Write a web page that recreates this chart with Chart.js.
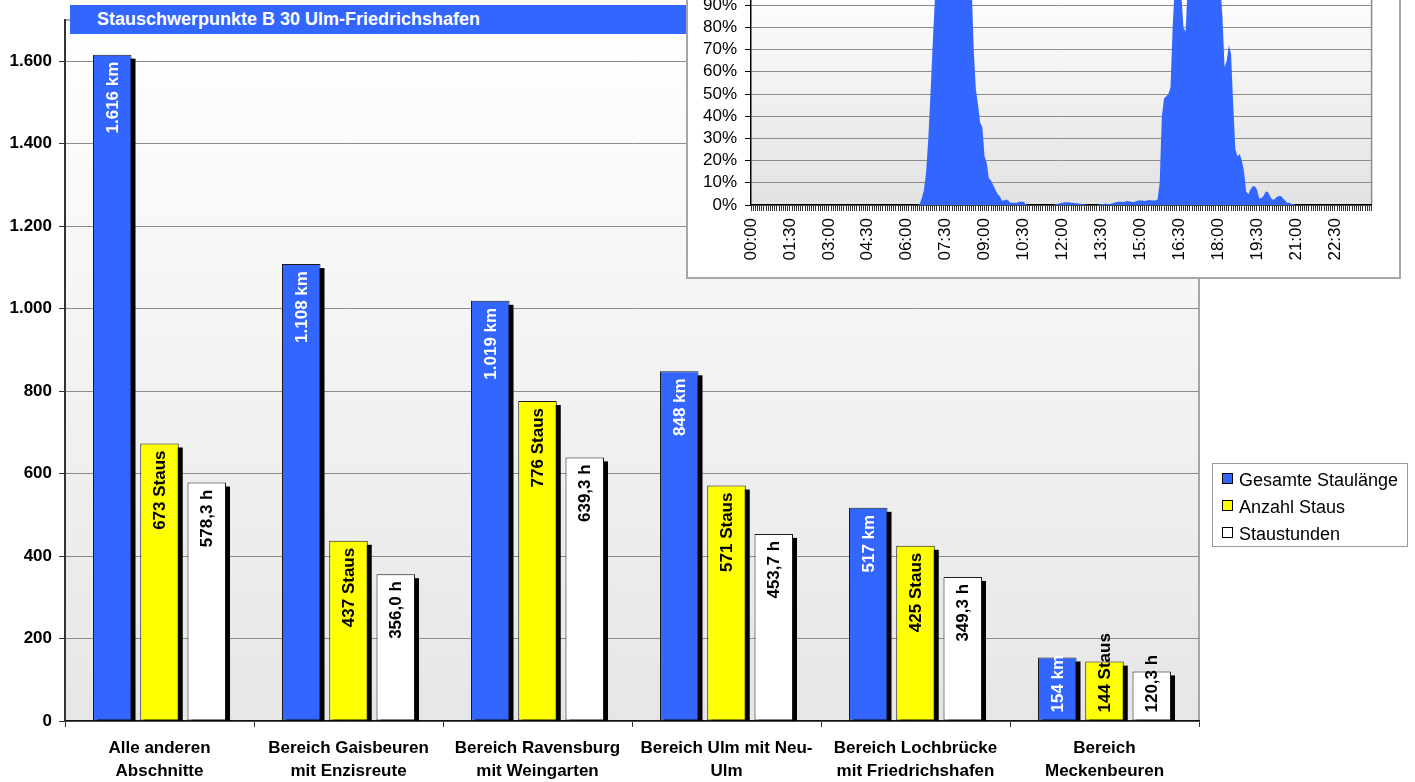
<!DOCTYPE html>
<html>
<head>
<meta charset="utf-8">
<script src="https://cdn.jsdelivr.net/npm/chart.js@4.4.1/dist/chart.umd.min.js"></script>
<style>
  body { margin: 0; background: #fff; width: 1415px; height: 782px; overflow: hidden; position: relative; font-family: "Liberation Sans", Arial, sans-serif; }
  #mainChart { position: absolute; left: 0; top: 0; }
  .title-box { position: absolute; left: 70px; top: 5px; width: 640px; height: 29px; background: #3366ff; color: #fff; font-weight: bold; font-size: 18px; line-height: 29px; padding-left: 27px; box-sizing: border-box; }
  .inset { position: absolute; left: 686px; top: -40px; width: 715px; height: 319px; border: 2px solid #a6a6a6; box-sizing: border-box; background: #fff; }
  .inset canvas { position: absolute; left: 0; top: 0; }
  .legend { position: absolute; left: 1212px; top: 463px; width: 196px; height: 84px; border: 1px solid #999; box-sizing: border-box; background: #fff; padding-top: 7px; }
  .legend div { height: 27px; font-size: 18px; line-height: 18px; position: relative; padding-left: 26px; color: #000; }
  .legend span { position: absolute; left: 9px; top: 2px; width: 9px; height: 9px; border: 1.5px solid #000; }
</style>
</head>
<body>
<canvas id="mainChart" width="1415" height="782"></canvas>
<div class="title-box">Stauschwerpunkte B 30 Ulm-Friedrichshafen</div>
<div class="legend" id="legend"></div>
<div class="inset"><canvas id="timeChart" width="711" height="315"></canvas></div>
<script>
// main chart data
const categories = [
  ["Alle anderen", "Abschnitte"],
  ["Bereich Gaisbeuren", "mit Enzisreute"],
  ["Bereich Ravensburg", "mit Weingarten"],
  ["Bereich Ulm mit Neu-", "Ulm"],
  ["Bereich Lochbrücke", "mit Friedrichshafen"],
  ["Bereich", "Meckenbeuren"]
];
const staulaenge = [1616, 1108, 1019, 848, 517, 154];
const anzahlStaus = [673, 437, 776, 571, 425, 144];
const staustunden = [578.3, 356.0, 639.3, 453.7, 349.3, 120.3];
const yTicks = [0, 200, 400, 600, 800, 1000, 1200, 1400, 1600];
const seriesNames = ["Gesamte Staulänge", "Anzahl Staus", "Staustunden"];
const seriesColors = ["#3366ff", "#ffff00", "#ffffff"];

// inset: share of congestion over the day, 5-minute steps, one row per hour
const dayShare = [
  0, 0, 0, 0, 0, 0, 0, 0, 0, 0, 0, 0,
  0, 0, 0, 0, 0, 0, 0, 0, 0, 0, 0, 0,
  0, 0, 0, 0, 0, 0, 0, 0, 0, 0, 0, 0,
  0, 0, 0, 0, 0, 0, 0, 0, 0, 0, 0, 0,
  0, 0, 0, 0, 0, 0, 0, 0, 0, 0, 0, 0,
  0, 0, 0, 0, 0, 0, 0, 0, 0, 0, 0, 0,
  0, 0, 0, 0, 0, 0, 0.5, 3, 7, 15, 30, 50,
  72, 92, 100, 100, 100, 100, 100, 100, 100, 100, 100, 100,
  100, 100, 100, 100, 100, 100, 100, 70, 52, 45, 37, 35,
  22, 19, 12, 11, 9, 7, 5, 4, 2, 2, 2.5, 2,
  1, 1, 1, 1, 1.5, 1.5, 1.5, 0.5, 0, 0, 0, 0,
  0, 0, 0, 0, 0, 0, 0, 0, 0, 0.3, 0.6, 0.8,
  1, 1.2, 1.2, 1.2, 1, 1, 0.8, 0.8, 0.6, 0.5, 0.3, 0.2,
  0, 0, 0, 0, 0, 0.3, 0.5, 0.5, 0.7, 0.5, 0.5, 0.8,
  1, 1.3, 1.5, 1.5, 1.3, 1.6, 1.8, 1.6, 1.5, 1.2, 1.7, 2,
  2, 2, 1.8, 2, 2.2, 2.1, 2, 2, 2.5, 10, 40, 48,
  49, 50, 53, 80, 100, 100, 100, 95, 80, 78, 100, 100,
  100, 100, 100, 100, 100, 100, 100, 100, 100, 100, 100, 100,
  100, 100, 85, 62, 65, 72, 68, 45, 25, 22, 23, 20,
  15, 6, 5, 7, 8.5, 8.5, 7, 3, 3, 4, 6, 6,
  4, 2.5, 2.5, 3.5, 4, 4, 3, 2, 1, 1, 0.5, 0.3,
  0, 0, 0, 0, 0, 0, 0, 0, 0, 0, 0, 0,
  0, 0, 0, 0, 0, 0, 0, 0, 0, 0, 0, 0,
  0, 0, 0, 0, 0, 0, 0, 0, 0, 0, 0, 0
];
const shownTimes = ["00:00", "01:30", "03:00", "04:30", "06:00", "07:30", "09:00", "10:30", "12:00", "13:30", "15:00", "16:30", "18:00", "19:30", "21:00", "22:30"];
const percentTicks = [0, 10, 20, 30, 40, 50, 60, 70, 80, 90, 100];

const FONT = '"Liberation Sans", Arial, sans-serif';

const thousands = (v) => String(v).replace(/\B(?=(\d{3})+(?!\d))/g, ".");
const labelFormat = [
  (v) => thousands(v) + " km",
  (v) => v + " Staus",
  (v) => v.toFixed(1).replace(".", ",") + " h",
];

// gradient plot background + grey frame
const plotBg = {
  id: "plotBg",
  beforeDraw(chart, args, opts) {
    const { ctx, chartArea: a } = chart;
    const g = ctx.createLinearGradient(0, a.top, 0, a.bottom);
    g.addColorStop(0, "#ffffff");
    g.addColorStop(1, opts.bottom || "#e4e4e4");
    ctx.save();
    ctx.fillStyle = g;
    ctx.fillRect(a.left, a.top, a.right - a.left, a.bottom - a.top);
    ctx.strokeStyle = "#8c8c8c";
    ctx.lineWidth = 1.5;
    ctx.beginPath();
    ctx.moveTo(a.left, a.top);
    ctx.lineTo(a.right, a.top);
    ctx.lineTo(a.right, a.bottom);
    ctx.stroke();
    ctx.restore();
  },
};

// black drop shadow behind each bar
const barShadow = {
  id: "barShadow",
  beforeDatasetsDraw(chart) {
    const { ctx, chartArea: a } = chart;
    ctx.save();
    ctx.fillStyle = "#000";
    chart.data.datasets.forEach((ds, di) => {
      chart.getDatasetMeta(di).data.forEach((bar) => {
        const left = bar.x - bar.width / 2 + 4;
        const top = bar.y + 4;
        ctx.fillRect(left, top, bar.width, a.bottom - top);
      });
    });
    ctx.restore();
  },
};

// rotated value labels inside the bars
const barLabels = {
  id: "barLabels",
  afterDatasetsDraw(chart) {
    const ctx = chart.ctx;
    chart.data.datasets.forEach((ds, di) => {
      chart.getDatasetMeta(di).data.forEach((bar, i) => {
        const text = labelFormat[di](ds.data[i]);
        ctx.save();
        ctx.font = "bold 17px " + FONT;
        ctx.fillStyle = di === 0 ? "#ffffff" : "#000000";
        const tw = ctx.measureText(text).width;
        let end = bar.y + 7;
        if (end + tw > bar.base - 8) end = bar.base - 8 - tw;
        ctx.translate(bar.x + 1, end);
        ctx.rotate(-Math.PI / 2);
        ctx.textAlign = "right";
        ctx.textBaseline = "middle";
        ctx.fillText(text, 0, 0);
        ctx.restore();
      });
    });
  },
};

const seriesData = [staulaenge, anzahlStaus, staustunden];

new Chart(document.getElementById("mainChart"), {
  type: "bar",
  data: {
    labels: categories,
    datasets: seriesNames.map((name, k) => ({
      label: name,
      data: seriesData[k],
      backgroundColor: seriesColors[k],
      borderColor: "#1a1a1a",
      borderWidth: 1,
      borderSkipped: false,
      categoryPercentage: 0.75,
      barPercentage: 0.815,
    })),
  },
  options: {
    responsive: false,
    animation: false,
    layout: { padding: { top: 20, right: 216, left: 0, bottom: 0 } },
    plugins: {
      legend: { display: false },
      tooltip: { enabled: false },
      plotBg: { bottom: "#e6e6e6" },
    },
    scales: {
      x: {
        z: 1,
        grid: { drawOnChartArea: false, tickLength: 6, tickColor: "#333", offset: true },
        border: { color: "#111", width: 1.5 },
        ticks: {
          color: "#000",
          padding: 10,
          maxRotation: 0,
          autoSkip: false,
          font: { family: FONT, size: 17, weight: "bold", lineHeight: "23px" },
        },
        afterFit(scale) { scale.height = 61; },
      },
      y: {
        min: 0,
        max: 1700,
        afterBuildTicks(scale) { scale.ticks = yTicks.map((v) => ({ value: v })); },
        grid: { color: "#8c8c8c", lineWidth: 1, tickLength: 6, tickColor: "#333" },
        border: { color: "#333", width: 2 },
        ticks: {
          color: "#000",
          padding: 7,
          autoSkip: false,
          font: { family: FONT, size: 17, weight: "bold" },
          callback: (v) => thousands(v),
        },
        afterFit(scale) { scale.width = 65; },
      },
    },
  },
  plugins: [plotBg, barShadow, barLabels],
});

// legend
const legendEl = document.getElementById("legend");
seriesNames.forEach((name, k) => {
  const row = document.createElement("div");
  const sw = document.createElement("span");
  sw.style.background = seriesColors[k];
  row.appendChild(sw);
  row.appendChild(document.createTextNode(name));
  legendEl.appendChild(row);
});

// inset chart: time of day
const timeLabels = [];
for (let h = 0; h < 24; h++) {
  for (let m = 0; m < 60; m += 5) {
    timeLabels.push(String(h).padStart(2, "0") + ":" + String(m).padStart(2, "0"));
  }
}

new Chart(document.getElementById("timeChart"), {
  type: "line",
  data: {
    labels: timeLabels,
    datasets: [{
      data: dayShare,
      fill: "origin",
      backgroundColor: "#3366ff",
      borderWidth: 0,
      pointRadius: 0,
      tension: 0,
    }],
  },
  options: {
    responsive: false,
    animation: false,
    layout: { padding: { top: 21, right: 27, left: 0, bottom: 0 } },
    plugins: {
      legend: { display: false },
      tooltip: { enabled: false },
      plotBg: { bottom: "#e2e2e2" },
    },
    scales: {
      x: {
        z: 1,
        grid: { drawOnChartArea: false, tickLength: 6, tickColor: "#333" },
        border: { color: "#000", width: 1.5 },
        ticks: {
          color: "#000",
          autoSkip: false,
          minRotation: 90,
          maxRotation: 90,
          padding: 7,
          font: { family: FONT, size: 17 },
          callback(val) {
            const l = this.getLabelForValue(val);
            return shownTimes.includes(l) ? l : "";
          },
        },
        afterFit(scale) { scale.height = 72; },
      },
      y: {
        min: 0,
        max: 100,
        afterBuildTicks(scale) { scale.ticks = percentTicks.map((v) => ({ value: v })); },
        grid: { color: "#8c8c8c", lineWidth: 1, tickLength: 6, tickColor: "#000" },
        border: { color: "#000", width: 1.5 },
        ticks: {
          color: "#000",
          padding: 8,
          autoSkip: false,
          font: { family: FONT, size: 17 },
          callback: (v) => v + "%",
        },
        afterFit(scale) { scale.width = 63; },
      },
    },
  },
  plugins: [plotBg],
});
</script>
</body>
</html>
